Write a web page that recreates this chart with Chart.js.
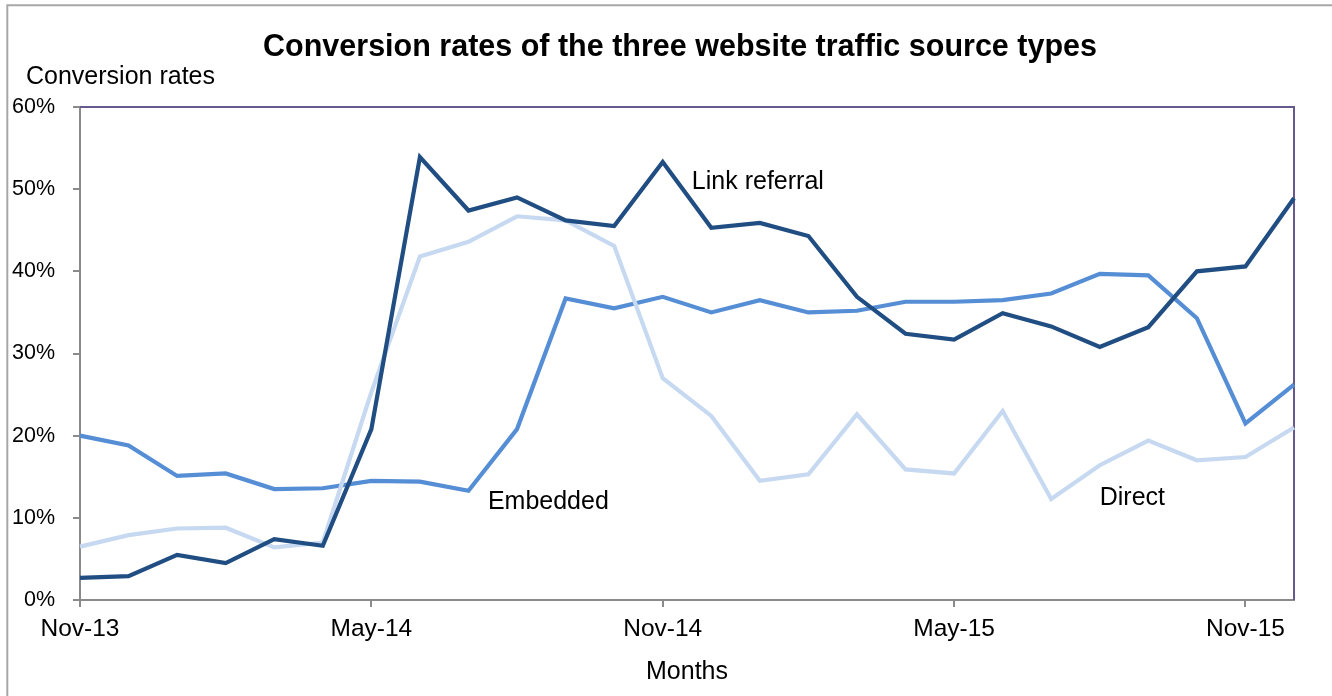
<!DOCTYPE html>
<html>
<head>
<meta charset="utf-8">
<title>Conversion rates of the three website traffic source types</title>
<script src="https://cdn.jsdelivr.net/npm/chart.js@4.4.1/dist/chart.umd.min.js"></script>
<style>
  html, body { margin: 0; padding: 0; background: #ffffff; }
  #wrap { position: relative; width: 1332px; height: 696px; overflow: hidden; }
  canvas { display: block; }
</style>
</head>
<body>
<div id="wrap"><canvas id="chart" width="1332" height="696"></canvas></div>
<script>
// Monthly categories, Nov-13 through Dec-15
const months = [
  'Nov-13', 'Dec-13', 'Jan-14', 'Feb-14', 'Mar-14', 'Apr-14', 'May-14',
  'Jun-14', 'Jul-14', 'Aug-14', 'Sep-14', 'Oct-14', 'Nov-14', 'Dec-14',
  'Jan-15', 'Feb-15', 'Mar-15', 'Apr-15', 'May-15', 'Jun-15', 'Jul-15',
  'Aug-15', 'Sep-15', 'Oct-15', 'Nov-15', 'Dec-15'
];

// Conversion rates in percent
const linkReferral = [
  2.7, 2.9, 5.5, 4.5, 7.4, 6.6, 20.8, 53.9, 47.4, 49.0, 46.2, 45.5, 53.3,
  45.3, 45.9, 44.3, 36.9, 32.4, 31.7, 34.9, 33.3, 30.8, 33.2, 40.0, 40.6, 48.9
];
const embedded = [
  20.0, 18.8, 15.1, 15.4, 13.5, 13.6, 14.5, 14.4, 13.3, 20.8, 36.7, 35.5, 36.9,
  35.0, 36.5, 35.0, 35.2, 36.3, 36.3, 36.5, 37.3, 39.7, 39.5, 34.3, 21.5, 26.2
];
const direct = [
  6.5, 7.9, 8.7, 8.8, 6.4, 7.0, 25.3, 41.8, 43.6, 46.7, 46.2, 43.1, 27.0,
  22.4, 14.5, 15.3, 22.6, 15.9, 15.4, 23.0, 12.3, 16.4, 19.4, 17.0, 17.4, 21.0
];

// Y axis ticks
const yTicks = [0, 10, 20, 30, 40, 50, 60];

// In-chart series labels: [category index, value] anchor of the text's left baseline
const seriesLabels = [
  { text: 'Link referral', at: [12.6, 50.0] },
  { text: 'Embedded', at: [8.4, 11.1] },
  { text: 'Direct', at: [21.0, 11.6] }
];

const FONT = "'Liberation Sans', Arial, sans-serif";
const AXIS_GREY = '#8a8a8a';
const FRAME_PURPLE = '#66598c';

const annotations = {
  id: 'annotations',
  beforeDraw(chart) {
    const ctx = chart.ctx;
    ctx.save();
    // outer frame (top and left edges)
    ctx.strokeStyle = '#a8a8a8';
    ctx.lineWidth = 2;
    ctx.beginPath();
    ctx.moveTo(1340, 5.3);
    ctx.lineTo(7.3, 5.3);
    ctx.lineTo(7.3, 700);
    ctx.stroke();
    ctx.restore();
  },
  beforeDatasetsDraw(chart) {
    const { ctx, chartArea: a } = chart;
    ctx.save();
    ctx.strokeStyle = FRAME_PURPLE;
    ctx.lineWidth = 2;
    ctx.beginPath();
    ctx.moveTo(a.left, a.top);
    ctx.lineTo(a.right, a.top);
    ctx.lineTo(a.right, a.bottom);
    ctx.stroke();
    ctx.restore();
  },
  afterDraw(chart) {
    const { ctx, chartArea: a, scales } = chart;
    ctx.save();
    ctx.fillStyle = '#000000';
    ctx.textBaseline = 'alphabetic';

    ctx.font = 'bold 30.5px ' + FONT;
    ctx.textAlign = 'center';
    ctx.fillText('Conversion rates of the three website traffic source types', 680, 55.5);

    ctx.font = '25px ' + FONT;
    ctx.textAlign = 'left';
    ctx.fillText('Conversion rates', 26, 84);

    ctx.textAlign = 'center';
    ctx.fillText('Months', (a.left + a.right) / 2, 679);

    ctx.textAlign = 'left';
    seriesLabels.forEach(l => {
      const x = scales.x.getPixelForValue(l.at[0]);
      const y = scales.y.getPixelForValue(l.at[1]);
      ctx.fillText(l.text, x, y);
    });
    ctx.restore();
  }
};

new Chart(document.getElementById('chart'), {
  type: 'line',
  data: {
    labels: months,
    datasets: [
      { label: 'Link referral', data: linkReferral, borderColor: '#204d82' },
      { label: 'Direct', data: direct, borderColor: '#c6d9f1' },
      { label: 'Embedded', data: embedded, borderColor: '#558ed5' }
    ].map(d => Object.assign(d, {
      borderWidth: 4.2,
      pointRadius: 0,
      pointHoverRadius: 0,
      tension: 0,
      fill: false
    }))
  },
  options: {
    responsive: false,
    devicePixelRatio: 1,
    animation: false,
    events: [],
    layout: { padding: { top: 107, right: 38, left: 0, bottom: 0 } },
    plugins: {
      legend: { display: false },
      title: { display: false },
      tooltip: { enabled: false }
    },
    scales: {
      x: {
        type: 'category',
        offset: false,
        afterFit(scale) { scale.height = 96; },
        border: { display: true, color: AXIS_GREY, width: 2 },
        grid: {
          drawOnChartArea: false,
          drawTicks: true,
          tickLength: 7,
          lineWidth: 2,
          color: c => (c.index % 6 === 0 ? AXIS_GREY : 'rgba(0,0,0,0)')
        },
        ticks: {
          autoSkip: false,
          maxRotation: 0,
          minRotation: 0,
          padding: 8,
          color: '#000000',
          font: { family: FONT, size: 24.5 },
          callback: (v, i) => (i % 6 === 0 ? months[i] : '')
        }
      },
      y: {
        min: yTicks[0],
        max: yTicks[yTicks.length - 1],
        afterFit(scale) { scale.width = 80; },
        afterBuildTicks(scale) { scale.ticks = yTicks.map(v => ({ value: v })); },
        border: { display: true, color: AXIS_GREY, width: 2 },
        grid: {
          drawOnChartArea: false,
          drawTicks: true,
          tickLength: 7,
          lineWidth: 2,
          color: AXIS_GREY
        },
        ticks: {
          padding: 18,
          color: '#000000',
          font: { family: FONT, size: 21.5 },
          callback: v => v + '%'
        }
      }
    }
  },
  plugins: [annotations]
});
</script>
</body>
</html>
